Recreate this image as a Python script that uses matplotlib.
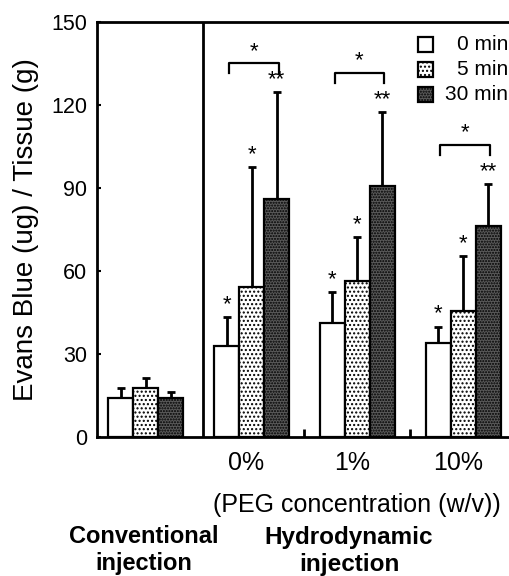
import matplotlib
matplotlib.use("Agg")
import matplotlib.pyplot as plt
import matplotlib.patches as mpatches
import numpy as np

plt.rcParams['font.family'] = ['Liberation Sans', 'DejaVu Sans']
plt.rcParams['hatch.color'] = '#8a8a8a'
plt.rcParams['hatch.linewidth'] = 1.0

# data
groups = ['Conventional', '0%', '1%', '10%']
tick_labels = ['0%', '1%', '10%']
series = ['0 min', '5 min', '30 min']
mean_0 = [14.1, 33.0, 41.2, 34.0]
mean_5 = [17.7, 54.2, 56.4, 45.5]
mean_30 = [14.1, 86.0, 90.7, 76.3]
err_0 = [3.6, 10.4, 11.2, 5.8]
err_5 = [3.6, 43.4, 15.9, 19.9]
err_30 = [2.2, 38.7, 26.8, 15.1]
stars_0 = ['', '*', '*', '*']
stars_5 = ['', '*', '*', '*']
stars_30 = ['', '**', '**', '**']
bracket_y = [135.0, 131.5, 105.5]

W, H = 509, 576
fig = plt.figure(figsize=(W / 100, H / 100), dpi=100)
ax = fig.add_axes([97 / W, 1 - 437 / H, 1 - 97 / W, 415 / H])

x = np.arange(len(groups))
w = 0.236
styles = [
    dict(facecolor='white', hatch=None),
    dict(facecolor='white', hatch='....'),
    dict(facecolor='#5a5a5a', hatch='......'),
]
means = [mean_0, mean_5, mean_30]
errs = [err_0, err_5, err_30]
stars = [stars_0, stars_5, stars_30]

for i in range(3):
    xs = x + (i - 1) * w
    ax.bar(xs, means[i], width=w, edgecolor='black', linewidth=1.6,
           zorder=2, **styles[i])
    eb = ax.errorbar(xs, means[i], yerr=[np.zeros(4), errs[i]], fmt='none',
                     ecolor='black', elinewidth=2, capsize=3, capthick=2,
                     zorder=3)
    eb[1][0].set_visible(False)
    tops = np.array(means[i]) + np.array(errs[i])
    for xi, yi, s in zip(xs, tops, stars[i]):
        if s:
            ax.text(xi, yi + 0.8, s, ha='center', va='bottom', fontsize=16,
                    zorder=4)

# brackets between 0 min and 30 min of the hydrodynamic groups
for gx, by in zip(x[1:], bracket_y):
    x0, x1 = gx - w + 0.02, gx + w + 0.02
    ax.plot([x0, x0, x1, x1], [by - 3.6, by, by, by - 3.6], color='black',
            lw=1.6, zorder=3)
    ax.text(gx + 0.02, by + 0.6, '*', ha='center', va='bottom', fontsize=16)

# separator between conventional and hydrodynamic
ax.axvline(0.54, color='black', lw=2)

ax.set_xlim(-0.462, 3.434)
ax.set_ylim(0, 150)
ax.set_yticks([0, 30, 60, 90, 120, 150])
ax.tick_params(axis='y', direction='in', length=3, width=1.5,
               labelsize=15.5, pad=7)
ax.set_xticks(x[1:] - 0.05)
ax.set_xticklabels(tick_labels, fontsize=18)
ax.tick_params(axis='x', length=0, pad=10)
ax.set_xticks([1.5, 2.5], minor=True)
ax.tick_params(axis='x', which='minor', direction='in', length=6, width=2)
for side in ['top', 'left', 'bottom']:
    ax.spines[side].set_linewidth(2)
ax.spines['right'].set_visible(False)

ax.set_ylabel('Evans Blue (ug) / Tissue (g)', fontsize=20)
ax.yaxis.set_label_coords((39 - 97) / 412, 0.5)

# legend drawn as squares and right-aligned labels
legend_rows = [44.5, 69.5, 94.5]
for (st, lab, ry) in zip(styles, series, legend_rows):
    sq = mpatches.Rectangle((418 / W, 1 - (ry + 7.5) / H), 15 / W, 15 / H,
                            transform=fig.transFigure, edgecolor='black',
                            linewidth=1.6, **st)
    fig.patches.append(sq)
    fig.text(508 / W, 1 - ry / H, lab, fontsize=15, ha='right',
             va='center')

fig.text(357 / W, 1 - 505 / H, '(PEG concentration (w/v))', fontsize=18,
         ha='center', va='center')
fig.text(144 / W, 1 - 550 / H, 'Conventional\ninjection', fontsize=17,
         fontweight='bold', ha='center', va='center', linespacing=1.25)
fig.text(349 / W, 1 - 551 / H, 'Hydrodynamic\ninjection', fontsize=17.5,
         fontweight='bold', ha='center', va='center', linespacing=1.25)

fig.savefig('out.png', dpi=100)
